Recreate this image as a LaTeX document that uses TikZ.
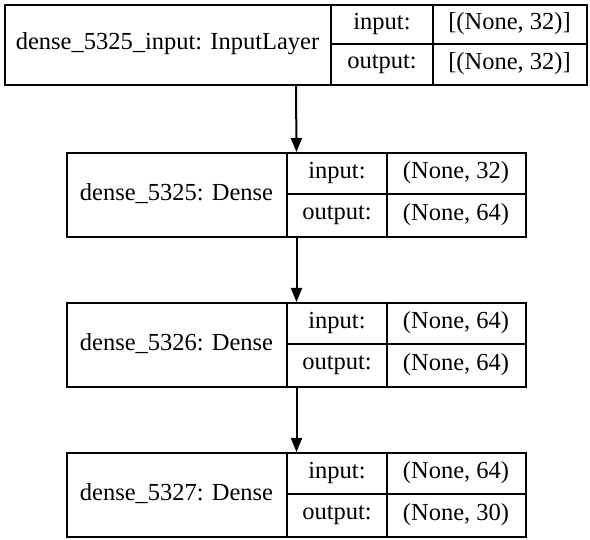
\documentclass[tikz,border=0pt]{standalone}
\usepackage{fontspec}
\setmainfont{Liberation Serif}
\newfontfamily\tmsfont{Liberation Serif}
\usetikzlibrary{arrows.meta}
\begin{document}
\begin{tikzpicture}[x=1pt,y=-1pt,
  box/.style={draw, line width=2pt, inner sep=0pt, minimum width=#1, minimum height=80pt, anchor=north west},
  rule/.style={line width=2pt},
  txt/.style={font=\tmsfont\fontsize{24.5}{28}\selectfont, inner sep=0pt},
  conn/.style={line width=2pt, -{Triangle[length=14pt,width=11pt]}}]
\useasboundingbox (0,0) rectangle (590,540);
% box 1
\node[box=582pt] (b1) at (4,4) {};
\node[txt] (l1) at (167.5,44) {dense\_5325\_input: InputLayer};
\draw[rule] (331,4) -- (331,84) (433,4) -- (433,84) (331,44) -- (586,44);
\node[txt] (i1) at (382,24) {input:};
\node[txt] (o1) at (382,64) {output:};
\node[txt] (iv1) at (509.5,24) {[(None, 32)]};
\node[txt] (ov1) at (509.5,64) {[(None, 32)]};
% box 2
\node[box=459pt, minimum height=84pt] (b2) at (66,152) {};
\node[txt] (l2) at (176.5,194) {dense\_5325: Dense};
\draw[rule] (287,152) -- (287,236) (387,152) -- (387,236) (287,194) -- (525,194);
\node[txt] (i2) at (337,173) {input:};
\node[txt] (o2) at (337,215) {output:};
\node[txt] (iv2) at (456,173) {(None, 32)};
\node[txt] (ov2) at (456,215) {(None, 64)};
% box 3
\node[box=459pt, minimum height=84pt] (b3) at (66,302) {};
\node[txt] (l3) at (176.5,344) {dense\_5326: Dense};
\draw[rule] (287,302) -- (287,386) (387,302) -- (387,386) (287,344) -- (525,344);
\node[txt] (i3) at (337,323) {input:};
\node[txt] (o3) at (337,365) {output:};
\node[txt] (iv3) at (456,323) {(None, 64)};
\node[txt] (ov3) at (456,365) {(None, 64)};
% box 4
\node[box=459pt, minimum height=84pt] (b4) at (66,452) {};
\node[txt] (l4) at (176.5,494) {dense\_5327: Dense};
\draw[rule] (287,452) -- (287,536) (387,452) -- (387,536) (287,494) -- (525,494);
\node[txt] (i4) at (337,473) {input:};
\node[txt] (o4) at (337,515) {output:};
\node[txt] (iv4) at (456,473) {(None, 64)};
\node[txt] (ov4) at (456,515) {(None, 30)};
% arrows
\draw[conn] (b1.south) -- (b2.north);
\draw[conn] (b2.south) -- (b3.north);
\draw[conn] (b3.south) -- (b4.north);
\end{tikzpicture}
\end{document}
